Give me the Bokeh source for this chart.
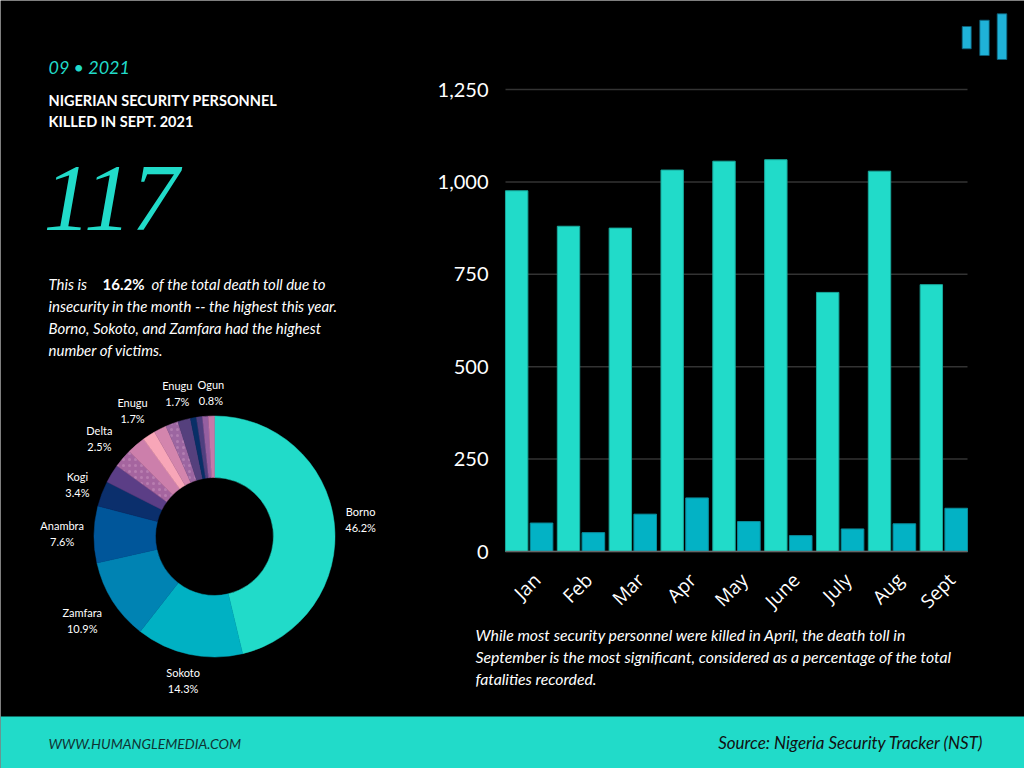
import math
from bokeh.plotting import figure
from bokeh.models import Range1d, FixedTicker, NumeralTickFormatter, LinearAxis
from bokeh.core.properties import value
from bokeh.embed import file_html
from bokeh.resources import INLINE

# ---------------- data ----------------
months = ["Jan", "Feb", "Mar", "Apr", "May", "June", "July", "Aug", "Sept"]
total_deaths = [976, 880, 875, 1032, 1056, 1060, 701, 1029, 722]
security_deaths = [77, 51, 101, 145, 81, 43, 61, 75, 117]
y_ticks = [0, 250, 500, 750, 1000, 1250]

state_labels = ["Borno", "Sokoto", "Zamfara", "Anambra", "Kogi", "", "Delta", "",
                "Enugu", "", "", "Enugu", "", "", "", "Ogun"]
state_shares = [46.2, 14.3, 10.9, 7.6, 3.4, 2.5, 2.5, 2.5,
                1.7, 1.7, 1.7, 1.7, 0.8, 0.8, 0.8, 0.8]
slice_colors = ["#21dbc9", "#00b1c3", "#0083b3", "#00569a", "#0b2f6c", "#5b3e86",
                "#a5659f", "#cc7fab", "#f8a6b8", "#d385ad", "#9c66a1", "#55407d",
                "#082f67", "#4f3f7f", "#955fa0", "#c57aa9"]
slice_hatch = [" ", " ", " ", " ", " ", " ", ".", " ", " ", " ", ".", " ", " ", " ", " ", " "]

TEAL = "#21dbc9"
DARK = "#03b2c5"
FONT = value("Lato")

# ---------------- canvas (page pixel coordinates) ----------------
X0, X1, Y0, Y1 = 0, 1024, 0, 768
p = figure(width=X1 - X0, height=Y1 - Y0, x_range=Range1d(X0, X1), y_range=Range1d(Y1, Y0),
           output_backend="svg", toolbar_location=None, min_border=0,
           x_axis_location=None, y_axis_location=None)
p.grid.visible = False
p.background_fill_color = "black"
p.border_fill_color = "black"
p.outline_line_color = None

# ---------------- bar-chart scales (placed inside the canvas) ----------------
BL, BR, BT, BB = 505, 967, 89, 551          # plotting box in page pixels
XLO, XHI, YLO, YHI = -0.4566, 8.4566, 0, 1250
sx = (BR - BL) / (XHI - XLO)
sy = (BB - BT) / (YHI - YLO)
p.extra_x_ranges = {"bx": Range1d(XLO - (BL - X0) / sx, XHI + (X1 - BR) / sx)}
p.extra_y_ranges = {"by": Range1d(YLO - (Y1 - BB) / sy, YHI + (BT - Y0) / sy)}

# footer band
p.quad(left=[X0], right=[X1], top=[716], bottom=[Y1], fill_color=TEAL, line_color=None)

# ---------------- left texts ----------------
p.text(x=[48], y=[66], text=["09 • 2021"], text_font=FONT, text_font_style="italic",
       text_font_size="18px", text_color=TEAL, text_baseline="middle")
p.text(x=[48, 48], y=[100, 121], text=["NIGERIAN SECURITY PERSONNEL", "KILLED IN SEPT. 2021"],
       text_font=FONT, text_font_style="bold", text_font_size="14.5px", text_color="white",
       text_baseline="middle")
p.text(x=[43], y=[198], text=["117"], text_font=value("Liberation Serif"),
       text_font_style="italic", text_font_size="95px", text_color=TEAL,
       text_baseline="middle")
PARA = dict(text_font=FONT, text_font_size="15px", text_color="white", text_baseline="middle")
p.text(x=[48], y=[283], text=["This is"], text_font_style="italic", **PARA)
p.text(x=[102], y=[283], text=["16.2%"], text_font_style="bold", **PARA)
p.text(x=[151], y=[283], text=["of the total death toll due to"], text_font_style="italic", **PARA)
p.text(x=[48, 48, 48], y=[305, 327, 349],
       text=["insecurity in the month -- the highest this year.",
             "Borno, Sokoto, and Zamfara had the highest",
             "number of victims."], text_font_style="italic", **PARA)

# ---------------- donut ----------------
cx, cy, r_in, r_out = 214, 536, 59, 120.5
tot = sum(state_shares)
starts, ends, mids = [], [], []
cum = 0.0
for s in state_shares:
    a0 = cum / tot * 2 * math.pi
    cum += s
    a1 = cum / tot * 2 * math.pi
    starts.append(math.pi / 2 - a0)
    ends.append(math.pi / 2 - a1)
    mids.append((a0 + a1) / 2)
p.annular_wedge(x=cx, y=cy, inner_radius=r_in, outer_radius=r_out,
                start_angle=starts, end_angle=ends, direction="clock",
                fill_color=slice_colors, line_color=slice_colors, line_width=0.5,
                hatch_pattern=slice_hatch, hatch_color="#e6b6d6", hatch_alpha=0.3,
                hatch_scale=6, hatch_weight=0.7)

lx, ly, lt = [], [], []
for name, share, th in zip(state_labels, state_shares, mids):
    if not name:
        continue
    pct = f"{share:.1f}%"
    hw = 3.3 * max(len(name), len(pct))
    d = 129 + hw * abs(math.sin(th)) + 15 * abs(math.cos(th))
    x = cx + d * math.sin(th)
    y = cy - d * math.cos(th)
    lx += [x, x]
    ly += [y - 8, y + 8]
    lt += [name, pct]
p.text(x=lx, y=ly, text=lt, text_font=FONT, text_font_size="11px", text_color="white",
       text_align="center", text_baseline="middle")

# ---------------- logo ----------------
p.quad(left=[961.7, 979.3, 996.7], right=[970.7, 988.7, 1006.3],
       top=[26, 19.7, 13.3], bottom=[48.3, 55, 59],
       fill_color="#1fb2d8", line_color="#0d5f78", line_width=0.8)

# ---------------- bar chart ----------------
p.segment(x0=[XLO] * len(y_ticks), x1=[XHI] * len(y_ticks), y0=y_ticks, y1=y_ticks,
          line_color="#333333", line_width=1.5, x_range_name="bx", y_range_name="by")
idx = list(range(len(months)))
p.vbar(x=[i - 0.241 for i in idx], top=total_deaths, bottom=0, width=0.432,
       fill_color=TEAL, line_color="#18a99c", line_width=1, x_range_name="bx", y_range_name="by")
p.vbar(x=[i + 0.239 for i in idx], top=security_deaths, bottom=0, width=0.436,
       fill_color=DARK, line_color="#0a8c9b", line_width=1, x_range_name="bx", y_range_name="by")

yaxis = LinearAxis(y_range_name="by", fixed_location=BL, bounds=(YLO, YHI),
                   ticker=FixedTicker(ticks=y_ticks), formatter=NumeralTickFormatter(format="0,0"))
yaxis.axis_line_color = None
yaxis.major_tick_line_color = None
yaxis.minor_tick_line_color = None
yaxis.major_label_standoff = 11
yaxis.major_label_text_font = "Lato"
yaxis.major_label_text_font_size = "20px"
yaxis.major_label_text_color = "white"
p.add_layout(yaxis, "left")

label_pos = [i + 0.15 for i in idx]
xaxis = LinearAxis(x_range_name="bx", y_range_name="by", fixed_location=0, bounds=(XLO, XHI),
                   ticker=FixedTicker(ticks=label_pos))
xaxis.major_label_overrides = {t: m for t, m in zip(label_pos, months)}
xaxis.major_label_orientation = math.pi / 4
xaxis.axis_line_color = "#666666"
xaxis.axis_line_width = 1.5
xaxis.major_tick_line_color = None
xaxis.minor_tick_line_color = None
xaxis.major_label_standoff = 19
xaxis.major_label_text_font = "Open Sans"
xaxis.major_label_text_font_size = "19px"
xaxis.major_label_text_color = "white"
p.add_layout(xaxis, "below")

# ---------------- right paragraph ----------------
p.text(x=[475, 475, 475], y=[634, 656, 678],
       text=["While most security personnel were killed in April, the death toll in",
             "September is the most significant, considered as a percentage of the total",
             "fatalities recorded."],
       text_font=FONT, text_font_style="italic", text_font_size="15.8px",
       text_color="white", text_baseline="middle")

# ---------------- footer texts ----------------
p.text(x=[48], y=[743], text=["WWW.HUMANGLEMEDIA.COM"], text_font=FONT,
       text_font_style="italic", text_font_size="14px", text_color="#0f3433",
       text_baseline="middle")
p.text(x=[983], y=[742], text=["Source: Nigeria Security Tracker (NST)"], text_font=FONT,
       text_font_style="italic", text_font_size="17px", text_color="#111111",
       text_align="right", text_baseline="middle")

open("out.html", "w").write(file_html(p, INLINE))
